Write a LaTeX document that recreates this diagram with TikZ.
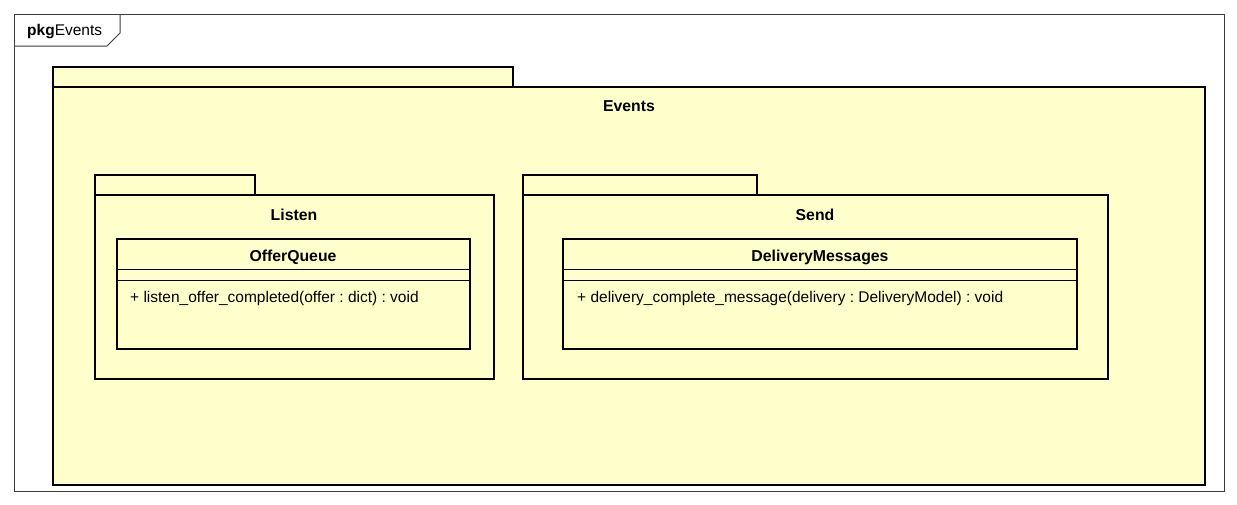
\documentclass[tikz,border=0pt]{standalone}
\usepackage{fontspec}
\setmainfont{Liberation Sans}
\usetikzlibrary{positioning}
\definecolor{pkgfill}{RGB}{255,255,204}
\definecolor{framegray}{RGB}{60,60,60}
\frenchspacing

\begin{document}
\begin{tikzpicture}[x=1pt, y=-1pt,
    pkgbox/.style={line width=2.6pt, fill=pkgfill},
    classbox/.style={line width=2.6pt, fill=pkgfill},
    sepline/.style={line width=1pt},
    titletext/.style={font=\bfseries\fontsize{15.8}{18}\selectfont, inner sep=0pt},
    membertext/.style={font=\fontsize{15.5}{18}\selectfont, inner sep=0pt, anchor=west}]
    \useasboundingbox[fill=white] (0,0) rectangle (1237,504);
    % Diagram frame
    \draw [framegray, line width=1pt] (14,14) rectangle (1224,491);
    \draw [framegray, line width=1pt] (14,46) -- (107,46) -- (120,33) -- (120,14);
    \node [membertext] (frametitle) at (27,32) {\textbf{pkg}Events};
    % Events package
    \draw [pkgbox] (53,67) rectangle (513,87); % Tab
    \draw [pkgbox] (53,87) rectangle (1205,485); % Body
    \node [titletext] (events) at (629,106.5) {Events};
    % Listen package
    \begin{scope}
        \draw [pkgbox] (95,175) rectangle (255,195); % Tab
        \draw [pkgbox] (95,195) rectangle (494,379); % Body
        \node [titletext] (listen) at (294,214.5) {Listen};
        % Class OfferQueue
        \draw [classbox] (117,239) rectangle (470,349);
        \draw [sepline] (117,269) -- (470,269);
        \draw [sepline] (117,280) -- (470,280);
        \node [titletext] (offerqueue) at (293,257.5) {OfferQueue};
        \node [membertext] (listenop) at (130,298.5) {+ listen\_offer\_completed(offer : dict) : void};
    \end{scope}
    % Send package
    \begin{scope}
        \draw [pkgbox] (523,175) rectangle (757,195); % Tab
        \draw [pkgbox] (523,195) rectangle (1108,379); % Body
        \node [titletext] (send) at (815,214.5) {Send};
        % Class DeliveryMessages
        \draw [classbox] (563,239) rectangle (1077,349);
        \draw [sepline] (563,269) -- (1077,269);
        \draw [sepline] (563,280) -- (1077,280);
        \node [titletext] (deliverymessages) at (820,257.5) {DeliveryMessages};
        \node [membertext] (deliveryop) at (577,298.5) {+ delivery\_complete\_message(delivery : DeliveryModel) : void};
    \end{scope}
\end{tikzpicture}
\end{document}
